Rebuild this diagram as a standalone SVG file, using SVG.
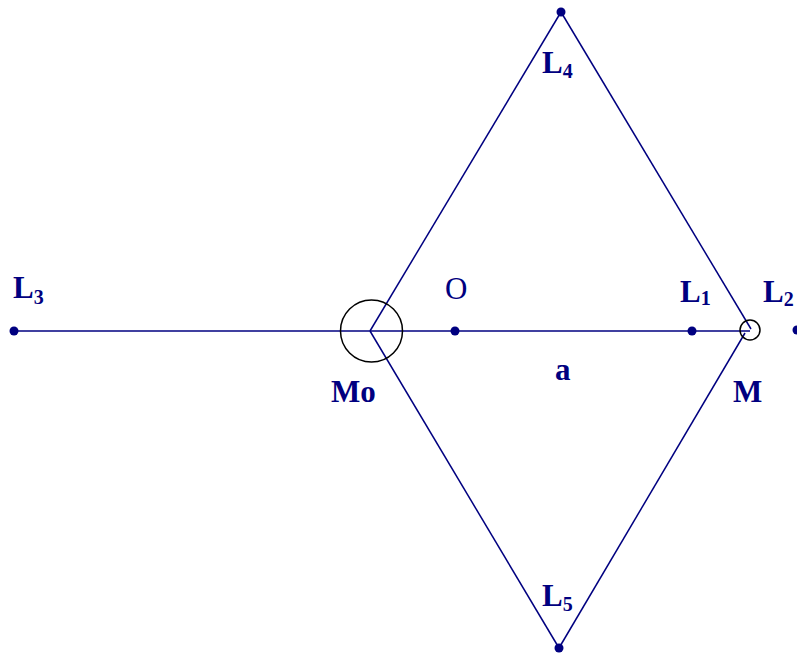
<svg xmlns="http://www.w3.org/2000/svg" width="797" height="653" viewBox="0 0 797 653">
<style>
.ln{stroke:#000080;stroke-width:1.5;fill:none}
.dot{fill:#000080}
.ring{stroke:#000;stroke-width:1.5;fill:none}
text{font-family:"Liberation Serif","Times New Roman",serif;font-weight:bold;font-size:31px;fill:#000080}
.sub{font-size:20px}
</style>
<rect width="797" height="653" fill="#fff"/>
<g id="connectors">
<line class="ln" x1="14" y1="331" x2="750" y2="331"/>
<line class="ln" x1="370" y1="331" x2="561" y2="12"/>
<line class="ln" x1="561" y1="12" x2="751" y2="329"/>
<line class="ln" x1="370" y1="331" x2="559" y2="648"/>
<line class="ln" x1="559" y1="648" x2="745" y2="333"/>
</g>
<g id="Mo"><circle class="ring" cx="371.5" cy="331" r="31"/><text x="331" y="402">Mo</text></g>
<g id="M"><circle class="ring" cx="750" cy="330" r="10"/><text x="733" y="402">M</text></g>
<g id="L3"><circle class="dot" cx="14" cy="331" r="4.5"/><text x="13" y="298">L<tspan class="sub" dy="6">3</tspan></text></g>
<g id="O"><circle class="dot" cx="455" cy="331" r="4.5"/><text x="445" y="299" style="font-weight:normal">O</text></g>
<g id="L1"><circle class="dot" cx="692" cy="331" r="4.5"/><text x="680" y="302">L<tspan class="sub" dy="3">1</tspan></text></g>
<g id="L2"><circle class="dot" cx="797" cy="330" r="4.5"/><text x="763" y="302">L<tspan class="sub" dy="4">2</tspan></text></g>
<g id="L4"><circle class="dot" cx="561" cy="12" r="4.5"/><text x="542" y="73">L<tspan class="sub" dy="5">4</tspan></text></g>
<g id="L5"><circle class="dot" cx="559" cy="648" r="4.5"/><text x="542" y="606">L<tspan class="sub" dy="5">5</tspan></text></g>
<g id="a"><text x="555" y="380">a</text></g>
</svg>
